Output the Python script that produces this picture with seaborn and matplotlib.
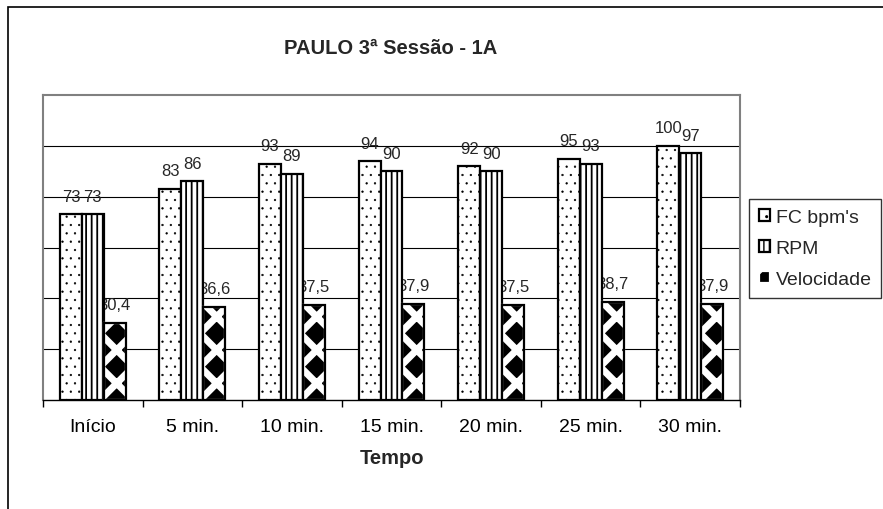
import numpy as np
import pandas as pd
import matplotlib.pyplot as plt
import seaborn as sns
from matplotlib.patches import Rectangle

# dados
tempos = ['Início', '5 min.', '10 min.', '15 min.', '20 min.', '25 min.', '30 min.']
fc_bpm = [73, 83, 93, 94, 92, 95, 100]
rpm = [73, 86, 89, 90, 90, 93, 97]
velocidade = [30.4, 36.6, 37.5, 37.9, 37.5, 38.7, 37.9]
series = ["FC bpm's", 'RPM', 'Velocidade']

df = pd.DataFrame({
    'Tempo': tempos * 3,
    'valor': fc_bpm + rpm + velocidade,
    'serie': [s for s in series for _ in tempos],
})

sns.set_theme(style='white')
plt.rcParams['font.family'] = ['Liberation Sans', 'DejaVu Sans']

fig = plt.figure(figsize=(8.83, 5.10), dpi=100)
ax = fig.add_axes([43 / 883, 1 - 401 / 510, (740 - 43) / 883, (401 - 96) / 510])

sns.barplot(data=df, x='Tempo', y='valor', hue='serie', palette=['white'] * 3,
            width=0.66, gap=0, edgecolor='black', linewidth=1.6, errorbar=None,
            legend=False, ax=ax, zorder=3)

hatches = ['..', '|||', 'x']
hatch_lw = [0.4, 1.3, 5.0]
for cont, h, hlw, vals in zip(ax.containers, hatches, hatch_lw, [fc_bpm, rpm, velocidade]):
    for bar, v in zip(cont, vals):
        bar.set_hatch(h)
        if hasattr(bar, 'set_hatch_linewidth'):
            bar.set_hatch_linewidth(hlw)
        if h == 'x':
            bar.set_facecolor('black')
            bar.set_edgecolor('white')
            ax.add_patch(Rectangle(bar.get_xy(), bar.get_width(), bar.get_height(),
                                   fill=False, edgecolor='black', linewidth=1.6, zorder=3.1))
        txt = f'{v:g}'.replace('.', ',')
        ax.annotate(txt, (bar.get_x() + bar.get_width() / 2, bar.get_height()),
                    xytext=(0, 13), textcoords='offset points', ha='center', va='center',
                    fontsize=12, zorder=2.5)

ax.set_ylim(0, 120)
ax.set_xlim(-0.5, 6.5)
ax.set_yticks([20, 40, 60, 80, 100])
ax.yaxis.grid(True, color='black', linewidth=0.8)
ax.set_axisbelow(True)
ax.tick_params(axis='y', length=0, labelleft=False)
ax.set_xticks(np.arange(-0.5, 7), minor=True)
ax.tick_params(axis='x', which='major', length=0, pad=13, labelsize=14, colors='black')
ax.tick_params(axis='x', which='minor', length=5, width=1, color='black', direction='out', bottom=True)
ax.set_ylabel('')
ax.set_xlabel('Tempo', fontsize=14.5, fontweight='bold', labelpad=9)

for s in ['top', 'right', 'left']:
    ax.spines[s].set_color('#808080')
    ax.spines[s].set_linewidth(1.5)
ax.spines['bottom'].set_color('black')
ax.spines['bottom'].set_linewidth(1)

leg = ax.legend(ax.containers, series, loc='upper left',
                bbox_to_anchor=(749 / 883, 1 - 200 / 510), bbox_transform=fig.transFigure,
                borderaxespad=0, fancybox=False, edgecolor='black', fontsize=14,
                handlelength=0.57, handleheight=0.57, handletextpad=0.3,
                labelspacing=0.73, borderpad=0.5)
leg.get_frame().set_linewidth(1)

fig.text(391 / 883, 1 - 48 / 510, 'PAULO 3ª Sessão - 1A', ha='center', va='center',
         fontsize=14.5, fontweight='bold')

fig.add_artist(Rectangle((8 / 883, -1), 2, 2 - 8 / 510, transform=fig.transFigure,
                         fill=False, edgecolor='black', linewidth=1.2))

fig.savefig('out.png', dpi=100)
